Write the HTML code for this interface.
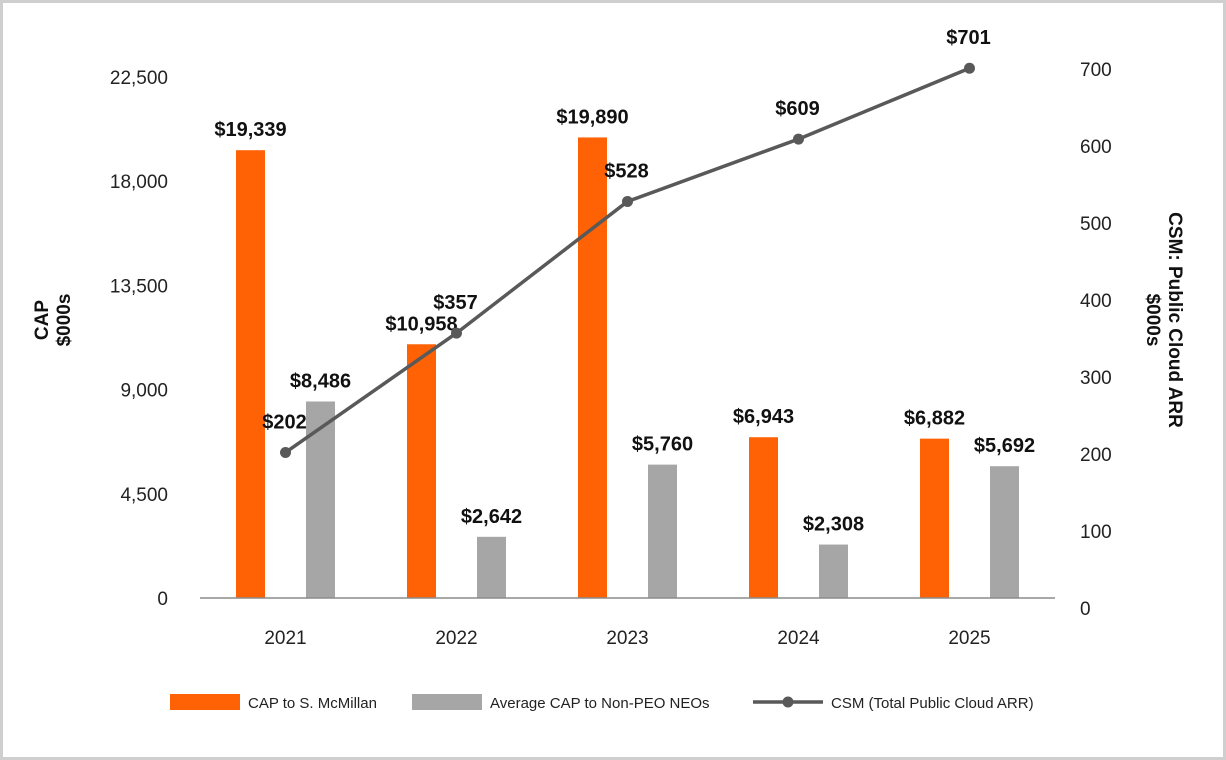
<!DOCTYPE html>
<html><head><meta charset="utf-8"><style>
body{margin:0;background:#fff}
svg{display:block;font-family:"Liberation Sans",sans-serif}
</style></head><body>
<svg id="c" width="1226" height="760">
<rect x="1.5" y="1.5" width="1223" height="757" fill="#fff" stroke="#cfcfcf" stroke-width="3"/>
</svg>
<script>
const categories=["2021","2022","2023","2024","2025"];
const capMcMillan=[19339,10958,19890,6943,6882];
const capNeos=[8486,2642,5760,2308,5692];
const csmArr=[202,357,528,609,701];
const leftTicks=[0,4500,9000,13500,18000,22500];
const rightTicks=[0,100,200,300,400,500,600,700];

const NS="http://www.w3.org/2000/svg";
const svg=document.getElementById('c');
function mk(t,a,txt){const e=document.createElementNS(NS,t);for(const k in a)e.setAttribute(k,a[k]);if(txt!==undefined)e.textContent=txt;svg.appendChild(e);return e;}
const x0=200,x1=1055,band=(x1-x0)/categories.length;
const xc=i=>x0+band*(i+0.5);
const yL=v=>598-v*(521/22500);
const yR=v=>608-v*0.77;
const fmt=v=>v.toLocaleString('en-US');

leftTicks.forEach(t=>{
 const e=mk('text',{x:168,y:yL(t)+7,'text-anchor':'end','font-size':19,fill:'#222'},fmt(t));
 
 
});
rightTicks.forEach(t=>{
 const e=mk('text',{x:1080,y:yR(t)+7,'font-size':19,fill:'#222'},fmt(t));
 
 
});
categories.forEach((c,i)=>{
 const e=mk('text',{x:xc(i),y:644,'text-anchor':'middle','font-size':19,fill:'#222'},c);
 
 
});
const bw=29;
categories.forEach((c,i)=>{
 let v=capMcMillan[i],cx=xc(i)-35;
 let r=mk('rect',{x:cx-bw/2,y:yL(v),width:bw,height:598-yL(v),fill:'#ff6105'});
 
 
 let t=mk('text',{x:cx,y:yL(v)-14,'text-anchor':'middle','font-size':20,'font-weight':'bold',fill:'#111'},'$'+fmt(v));
 
 
 v=capNeos[i];cx=xc(i)+35;
 r=mk('rect',{x:cx-bw/2,y:yL(v),width:bw,height:598-yL(v),fill:'#a6a6a6'});
 
 
 t=mk('text',{x:cx,y:yL(v)-14,'text-anchor':'middle','font-size':20,'font-weight':'bold',fill:'#111'},'$'+fmt(v));
 
 
});
const ax=mk('line',{x1:x0,y1:598,x2:x1,y2:598,stroke:'#8c8c8c','stroke-width':1.5});


const pl=mk('polyline',{points:csmArr.map((v,i)=>xc(i)+','+yR(v)).join(' '),fill:'none',stroke:'#595959','stroke-width':3.5});


csmArr.forEach((v,i)=>{
 const d=mk('circle',{cx:xc(i),cy:yR(v),r:5.5,fill:'#595959'});
 
 
 const t=mk('text',{x:xc(i)-1,y:yR(v)-24,'text-anchor':'middle','font-size':20,'font-weight':'bold',fill:'#111'},'$'+v);
 
 
});
let t=mk('text',{transform:'translate(52,320) rotate(-90)','text-anchor':'middle','font-size':19,'font-weight':'bold',fill:'#111'});


t.innerHTML='<tspan x="0" dy="-4">CAP</tspan><tspan x="0" dy="22">$000s</tspan>';
t=mk('text',{transform:'translate(1165,320) rotate(90)','text-anchor':'middle','font-size':19,'font-weight':'bold',fill:'#111'});


t.innerHTML='<tspan x="0" dy="-4">CSM: Public Cloud ARR</tspan><tspan x="0" dy="22">$000s</tspan>';
// legend
let l=mk('rect',{x:170,y:694,width:70,height:16,fill:'#ff6105'});


l=mk('text',{x:248,y:708,'font-size':15,fill:'#222'},'CAP to S. McMillan');


l=mk('rect',{x:412,y:694,width:70,height:16,fill:'#a6a6a6'});


l=mk('text',{x:490,y:708,'font-size':15,fill:'#222'},'Average CAP to Non-PEO NEOs');


l=mk('line',{x1:753,y1:702,x2:823,y2:702,stroke:'#595959','stroke-width':3.5});


l=mk('circle',{cx:788,cy:702,r:5.5,fill:'#595959'});


l=mk('text',{x:831,y:708,'font-size':15,fill:'#222'},'CSM (Total Public Cloud ARR)');


</script>
</body></html>
